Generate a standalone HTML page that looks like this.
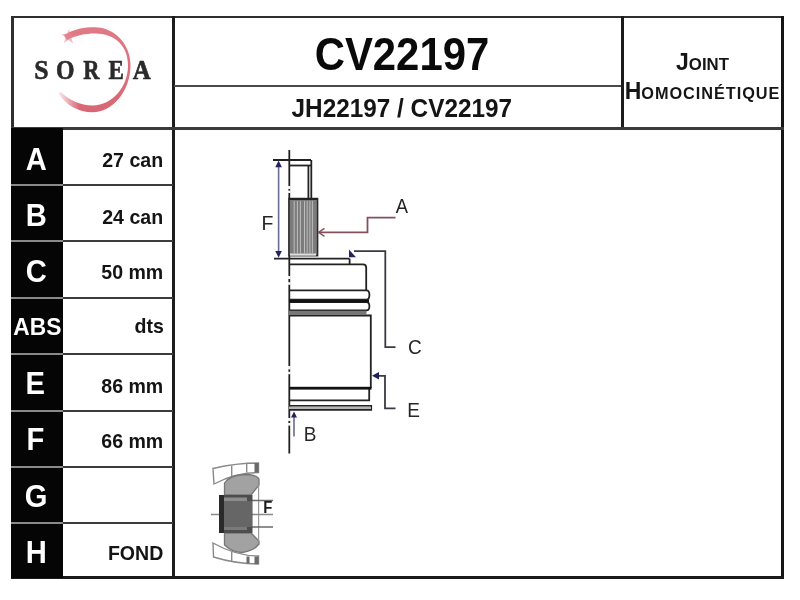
<!DOCTYPE html>
<html><head><meta charset="utf-8">
<style>
html,body{margin:0;padding:0;}
body{width:800px;height:600px;background:#fff;position:relative;overflow:hidden;font-family:"Liberation Sans",sans-serif;}
.a{position:absolute;}
.ln{position:absolute;background:#303030;}
.blk{position:absolute;background:#050505;}
.sep{position:absolute;background:#8a8a8a;}
.sepw{position:absolute;background:#3c3c3c;}
.let{position:absolute;left:11px;width:52px;text-align:center;color:#fff;font-weight:bold;font-size:31px;line-height:1;white-space:nowrap}
.let span{display:inline-block;transform:scaleX(0.94);position:relative;left:-1.3px}
.val{position:absolute;right:636.5px;text-align:right;color:#141414;font-weight:bold;font-size:20.6px;line-height:1;white-space:nowrap;}
.val span{display:inline-block;transform:scaleX(0.95);transform-origin:100% 50%}
</style></head><body><div id="wrap" style="position:absolute;left:0;top:0;width:800px;height:600px;background:#fff;filter:blur(0.3px)">
<!-- outer frame -->
<div class="ln" style="left:11px;top:16px;width:773px;height:2px"></div>
<div class="ln" style="left:10.5px;top:16px;width:3px;height:562px"></div>
<div class="ln" style="left:781px;top:16px;width:3px;height:562px;background:#151515"></div>
<div class="ln" style="left:11px;top:576px;width:773px;height:2.5px;background:#1a1a1a"></div>
<div class="ln" style="left:172px;top:16px;width:3px;height:562px;background:#1c1c1c"></div>
<div class="ln" style="left:621px;top:16px;width:3px;height:112px;background:#1c1c1c"></div>
<div class="ln" style="left:174px;top:85px;width:447px;height:2px;background:#4a4a4a"></div>
<div class="ln" style="left:11px;top:127px;width:773px;height:3px;background:#3a3a3a"></div>

<!-- left column -->
<div class="blk" style="left:11px;top:128px;width:52px;height:450px"></div>
<div class="sep" style="left:11px;top:184px;width:52px;height:2px"></div>
<div class="sep" style="left:11px;top:240px;width:52px;height:2px"></div>
<div class="sep" style="left:11px;top:297px;width:52px;height:2px"></div>
<div class="sep" style="left:11px;top:353px;width:52px;height:2px"></div>
<div class="sep" style="left:11px;top:410px;width:52px;height:2px"></div>
<div class="sep" style="left:11px;top:466px;width:52px;height:2px"></div>
<div class="sep" style="left:11px;top:522px;width:52px;height:2px"></div>
<div class="sepw" style="left:63px;top:184px;width:110px;height:2px"></div>
<div class="sepw" style="left:63px;top:240px;width:110px;height:2px"></div>
<div class="sepw" style="left:63px;top:297px;width:110px;height:2px"></div>
<div class="sepw" style="left:63px;top:353px;width:110px;height:2px"></div>
<div class="sepw" style="left:63px;top:410px;width:110px;height:2px"></div>
<div class="sepw" style="left:63px;top:466px;width:110px;height:2px"></div>
<div class="sepw" style="left:63px;top:522px;width:110px;height:2px"></div>

<div class="let" style="top:144px"><span>A</span></div>
<div class="let" style="top:200px"><span>B</span></div>
<div class="let" style="top:256px"><span>C</span></div>
<div class="let" style="top:315px;font-size:24px"><span style="transform:scaleX(0.95);left:0">ABS</span></div>
<div class="let" style="top:367.5px"><span>E</span></div>
<div class="let" style="top:424px"><span>F</span></div>
<div class="let" style="top:481px"><span>G</span></div>
<div class="let" style="top:536.5px"><span>H</span></div>

<div class="val" style="top:150px"><span>27 can</span></div>
<div class="val" style="top:206.5px"><span>24 can</span></div>
<div class="val" style="top:261.5px"><span>50 mm</span></div>
<div class="val" style="top:315.5px"><span>dts</span></div>
<div class="val" style="top:375.5px"><span>86 mm</span></div>
<div class="val" style="top:430.5px"><span>66 mm</span></div>
<div class="val" style="top:542.5px"><span>FOND</span></div>

<!-- header -->
<div class="a" style="left:178.75px;top:31px;width:447px;text-align:center;line-height:1"><span style="display:inline-block;font-weight:bold;font-size:46.5px;color:#0a0a0a;transform:scaleX(0.9)">CV22197</span></div>
<div class="a" style="left:178.5px;top:95px;width:447px;text-align:center;line-height:1"><span style="display:inline-block;font-weight:bold;font-size:26px;color:#141414;transform:scaleX(0.936)">JH22197 / CV22197</span></div>
<div class="a" style="left:624px;top:51px;width:157px;text-align:center;font-weight:bold;line-height:1;color:#151515;white-space:nowrap"><span style="font-size:23px">J</span><span style="font-size:16.8px;letter-spacing:0px">OINT</span></div>
<div class="a" style="left:624px;top:80px;width:157px;text-align:center;font-weight:bold;line-height:1;color:#151515;white-space:nowrap"><span style="font-size:23px">H</span><span style="font-size:16.3px;letter-spacing:0.95px">OMOCINÉTIQUE</span></div>

<!-- logo -->
<svg class="a" style="left:0;top:0" width="800" height="600" viewBox="0 0 800 600">
  <defs>
    <linearGradient id="lg" x1="0" y1="0" x2="0" y2="1">
      <stop offset="0" stop-color="#e07a86"/>
      <stop offset="1" stop-color="#d86673"/>
    </linearGradient>
    <linearGradient id="fadeL" gradientUnits="userSpaceOnUse" x1="55" y1="0" x2="80" y2="0">
      <stop offset="0" stop-color="#fff" stop-opacity="1"/>
      <stop offset="1" stop-color="#fff" stop-opacity="0"/>
    </linearGradient>
    <filter id="bl" x="-10%" y="-10%" width="120%" height="120%"><feGaussianBlur stdDeviation="0.6"/></filter>
  </defs>
  <g filter="url(#bl)">
  <path d="M64 35 C74 29 84 27.3 95 27.3 C115 27.5 131 45 130.5 66 C130 92 112 112.3 92.7 112.3 C78 112.3 66 105 58 93 L61 92 C69 100 80 105.5 93 105.5 C112 105 127.5 88 128 66 C128.3 46 115 33.5 95 33.5 C85 33.5 76 35.5 67 40 Z" fill="url(#lg)"/>
  <path d="M69 29 L70.5 34.5 L76 35 L71.5 38 L73 43.5 L68.5 40 L64 43 L65.5 37.5 L61.5 34 L67 34 Z" fill="#e58a95" opacity="0.55"/>
  <rect x="55" y="80" width="32" height="36" fill="url(#fadeL)"/>
  </g>
  <g font-family="Liberation Serif" font-weight="bold" font-size="28" fill="#2a2a2a" stroke="#2a2a2a" stroke-width="0.6" text-anchor="middle">
    <text transform="translate(41.4 79) scale(0.92 1)">S</text>
    <text transform="translate(65.35 79) scale(0.85 1)">O</text>
    <text transform="translate(91.3 79) scale(0.8 1)">R</text>
    <text transform="translate(116.2 79) scale(0.82 1)">E</text>
    <text transform="translate(141.85 79) scale(0.89 1)">A</text>
  </g>
</svg>

<!-- diagram -->
<svg class="a" style="left:0;top:0" width="800" height="600" viewBox="0 0 800 600">
<g fill="none" stroke="#222" stroke-width="1.8">
  <!-- axis / left edge -->
  <line x1="289.3" y1="150" x2="289.3" y2="453.5"/>
  <!-- shaft end -->
  <line x1="273" y1="160" x2="311" y2="160"/>
  <line x1="289" y1="165.5" x2="311" y2="165.5"/>
  <line x1="311.3" y1="160" x2="311.3" y2="198.5"/>
  <line x1="308.4" y1="165" x2="308.4" y2="198.5"/>
  <!-- long line at 258.5 -->
  <line x1="274" y1="258.6" x2="349.5" y2="258.6"/>
  <line x1="349.6" y1="258.6" x2="349.6" y2="264.5"/>
  <!-- body top section -->
  <path d="M289.3 264.4 H363 Q366.2 264.4 366.2 267.5 V290.5"/>
  <!-- ring 1 -->
  <path d="M289.3 290.4 H366.5 Q369.4 290.4 369.4 295 Q369.4 299.6 366.5 299.6 H289.3"/>
  <!-- ring 2 -->
  <path d="M289.3 302.2 H366.5 Q369.4 302.2 369.4 306.3 Q369.4 310.4 366.5 310.4 H289.3"/>
  <!-- lower body -->
  <path d="M289.3 315.5 H370.8 V388"/>
  <!-- lower ring -->
  <path d="M369.2 389 V400.3 H289.3"/>
  <path d="M289.3 405.8 H371.2 V409.8 H289.3"/>
</g>
<!-- thick lines -->
<rect x="289" y="299.8" width="80" height="2.6" fill="#111"/>
<rect x="289" y="386.8" width="82.5" height="2.8" fill="#111"/>
<rect x="289" y="310.8" width="77.5" height="4.2" fill="#777"/>
<rect x="289" y="406.6" width="82" height="2.4" fill="#b4b4b4"/>
<!-- splines -->
<rect x="289" y="198.5" width="28.6" height="57.2" fill="#7c7c7c" stroke="#2a2a2a" stroke-width="1.5"/>
<g stroke="#bdbdbd" stroke-width="1">
  <line x1="294.2" y1="201" x2="294.2" y2="253"/>
  <line x1="297.4" y1="201" x2="297.4" y2="253"/>
  <line x1="300.4" y1="201" x2="300.4" y2="253"/>
  <line x1="304.5" y1="201" x2="304.5" y2="253"/>
  <line x1="307.2" y1="201" x2="307.2" y2="253"/>
  <line x1="309.9" y1="201" x2="309.9" y2="253"/>
  <line x1="312.4" y1="201" x2="312.4" y2="253"/>
</g>
<rect x="290" y="253.5" width="26" height="2.2" fill="#e0e0e0"/>
<line x1="289" y1="199" x2="317.6" y2="199" stroke="#222" stroke-width="2"/>

<g fill="#f4f4f4">
  <rect x="287.8" y="186" width="3" height="3"/><rect x="287.8" y="190.6" width="3" height="2.4"/>
  <rect x="287.8" y="276" width="3" height="3"/><rect x="287.8" y="282.2" width="3" height="2.6"/>
  <rect x="287.8" y="366" width="3" height="3.4"/><rect x="287.8" y="371.8" width="3" height="2.4"/>
  <rect x="287.8" y="418" width="3" height="3"/><rect x="287.8" y="423" width="3" height="2.6"/>
</g>
<!-- F dimension -->
<g stroke="#6a6a8c" stroke-width="1.6" fill="none">
  <line x1="278.6" y1="163" x2="278.6" y2="255"/>
</g>
<path d="M278.6 160.5 L275.3 167.3 L281.9 167.3 Z" fill="#25255e"/>
<path d="M278.6 257.8 L275.3 251 L281.9 251 Z" fill="#25255e"/>
<text x="0" y="0" font-family="Liberation Sans" font-size="20.5" fill="#262626" transform="translate(261.5 230.2) scale(0.95 1)">F</text>

<!-- A arrow (red) -->
<path d="M318.5 232.3 H367.5 V217.6 H395.5" fill="none" stroke="#84505e" stroke-width="1.8"/>
<path d="M324.5 228.3 L318.5 232.3 L324.5 236.3" fill="none" stroke="#84505e" stroke-width="1.4"/>
<text x="0" y="0" font-family="Liberation Sans" font-size="20" fill="#222" transform="translate(395.8 212.6) scale(0.92 1)">A</text>

<!-- C arrow -->
<path d="M354 251.2 H385.3 V347.2 H395.5" fill="none" stroke="#3a3a46" stroke-width="1.8"/>
<path d="M349 249.5 L349 257.3 L356 257.3 Z" fill="#25255e"/>
<text x="0" y="0" font-family="Liberation Sans" font-size="20" fill="#262626" transform="translate(408 354.3) scale(0.95 1)">C</text>

<!-- E arrow -->
<path d="M375 375.8 H385 V408.3 H395.5" fill="none" stroke="#3a3a46" stroke-width="1.8"/>
<path d="M372 375.8 L379 372 L379 379.6 Z" fill="#1f1f5a"/>
<text x="0" y="0" font-family="Liberation Sans" font-size="20" fill="#262626" transform="translate(407.3 416.6) scale(0.95 1)">E</text>

<!-- B arrow -->
<line x1="294" y1="417" x2="294" y2="436.5" stroke="#6a6a8c" stroke-width="1.6"/>
<path d="M294 411.5 L291 417.5 L297 417.5 Z" fill="#25255e"/>
<text x="0" y="0" font-family="Liberation Sans" font-size="20" fill="#262626" transform="translate(303.8 440.8) scale(0.95 1)">B</text>

<!-- small joint diagram -->
<defs><filter id="sb" x="-5%" y="-5%" width="110%" height="110%"><feGaussianBlur stdDeviation="0.45"/></filter></defs>
<g filter="url(#sb)">
  <!-- top arc piece -->
  <path d="M213 468.5 Q236 463 258.5 463 V472.5 Q236 472.5 214 484 Z" fill="#fff" stroke="#8a8a8a" stroke-width="1.4"/>
  <line x1="231.7" y1="465.5" x2="231.7" y2="476" stroke="#8a8a8a" stroke-width="1.4"/>
  <line x1="246.7" y1="463.5" x2="246.7" y2="472.5" stroke="#8a8a8a" stroke-width="1.4"/>
  <rect x="254.5" y="463" width="4" height="9.5" fill="#6a6a6a"/>
  <!-- bottom arc piece -->
  <path d="M213 543 Q236 556 258.5 556 V564 Q236 564 213.5 557 Z" fill="#fff" stroke="#8a8a8a" stroke-width="1.4"/>
  <line x1="231.7" y1="551.5" x2="231.7" y2="562" stroke="#8a8a8a" stroke-width="1.4"/>
  <rect x="246.5" y="556.5" width="3" height="7" fill="#6a6a6a"/>
  <rect x="254.5" y="556.5" width="4" height="7.5" fill="#6a6a6a"/>
  <!-- lobes -->
  <path d="M224.5 495 V483 Q230 475 245 474.5 Q256 474.5 259 479 V485 L251 495 Z" fill="#a2a2a2" stroke="#777" stroke-width="1.3"/>
  <path d="M224.5 533 V545 Q232 552 242 552.5 Q254 551 259 544 V541 L251 533 Z" fill="#a2a2a2" stroke="#777" stroke-width="1.3"/>
  <line x1="258.6" y1="485" x2="258.6" y2="541" stroke="#9a9a9a" stroke-width="1.2"/>
  <!-- shaft lines -->
  <line x1="252" y1="500.5" x2="273" y2="500.5" stroke="#6a6a6a" stroke-width="1.5"/>
  <line x1="211" y1="514.5" x2="273" y2="514.5" stroke="#8a8a8a" stroke-width="1.4"/>
  <line x1="252" y1="527" x2="273" y2="527" stroke="#6a6a6a" stroke-width="1.5"/>
  <!-- dark block -->
  <rect x="219" y="495" width="33.5" height="38" fill="#4e4e4e"/>
  <rect x="219" y="495" width="5" height="38" fill="#2c2c2c"/>
  <rect x="224" y="497.5" width="23" height="3.5" fill="#8c8c8c"/>
  <rect x="224" y="527" width="23" height="3" fill="#7a7a7a"/>
  <rect x="224" y="501" width="28" height="26" fill="#666"/>
  <text x="0" y="0" font-family="Liberation Sans" font-weight="bold" font-size="16.5" fill="#1a1a1a" transform="translate(263.3 513.3) scale(0.9 1)">F</text>
</g>
</svg>
</div></body></html>
